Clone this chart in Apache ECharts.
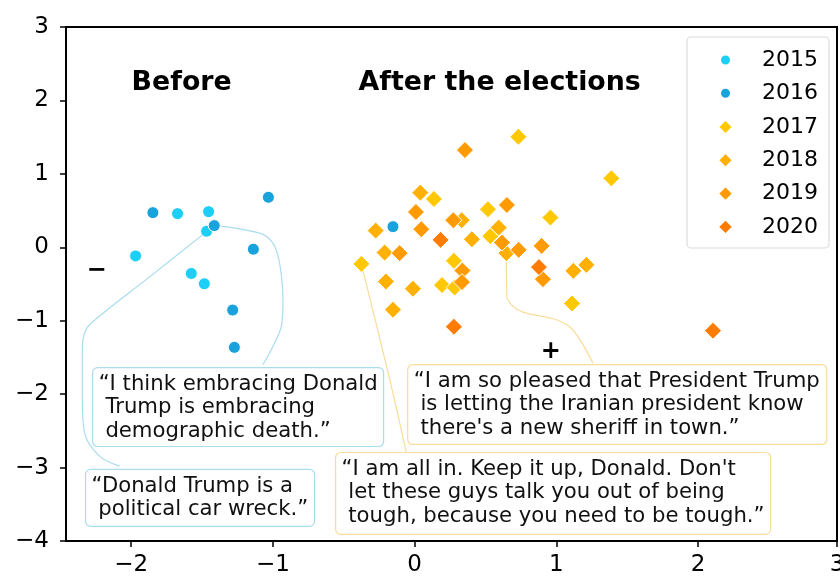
<!DOCTYPE html>
<html><head><meta charset="utf-8">
<script src="https://cdn.jsdelivr.net/npm/echarts@6/dist/echarts.min.js"></script>
<style>html,body{margin:0;padding:0;background:#fff}#c{width:840px;height:577px}</style>
</head><body><div id="c"></div>
<script>
// ---- data ----
const years = ['2015', '2016', '2017', '2018', '2019', '2020'];
const d2015 = [[-1.673,0.458],[-1.454,0.485],[-1.468,0.219],[-1.969,-0.117],[-1.576,-0.357],[-1.484,-0.497]];
const d2016 = [[-1.847,0.472],[-1.414,0.295],[-1.032,0.681],[-1.138,-0.026],[-1.284,-0.855],[-1.272,-1.363],[-0.153,0.281]];
const d2017 = [[0.732,1.505],[1.388,0.939],[0.136,0.658],[0.517,0.518],[0.958,0.404],[0.534,0.151],[-0.376,-0.226],[0.277,-0.185],[0.193,-0.515],[0.282,-0.548],[1.110,-0.765]];
const d2018 = [[0.040,0.744],[0.332,0.368],[-0.275,0.227],[0.593,0.268],[0.404,0.110],[0.647,-0.080],[-0.212,-0.072],[1.120,-0.321],[1.212,-0.239],[-0.203,-0.466],[-0.012,-0.565],[-0.153,-0.851]];
const d2019 = [[0.355,1.324],[0.651,0.576],[0.009,0.481],[0.273,0.368],[0.047,0.246],[0.616,0.064],[0.734,-0.035],[0.896,0.019],[-0.106,-0.080],[0.337,-0.317],[0.905,-0.434],[0.334,-0.474]];
const d2020 = [[0.183,0.101],[0.877,-0.270],[0.277,-1.082],[2.105,-1.136]];
const xTicks = [-2, -1, 0, 1, 2, 3];
const yTicks = [-4, -3, -2, -1, 0, 1, 2, 3];

// annotation content (data coordinates)
const headings = [{t: 'Before', x: -1.644, y: 2.236}, {t: 'After the elections', x: 0.600, y: 2.236}];
const signs = [{t: '−', x: -2.244, y: -0.321}, {t: '+', x: 0.960, y: -1.422}];
const quotes = [
  {text: '“I think embracing Donald\n Trump is embracing\n demographic death.”', x1: -2.272, y1: -1.639, x2: -0.219, y2: -2.713, side: 'blue'},
  {text: '“Donald Trump is a\n political car wreck.”', x1: -2.322, y1: -3.025, x2: -0.706, y2: -3.800, side: 'blue'},
  {text: '“I am so pleased that President Trump\n is letting the Iranian president know\n there\'s a new sheriff in town.”', x1: -0.049, y1: -1.598, x2: 2.908, y2: -2.685, side: 'orange'},
  {text: '“I am all in. Keep it up, Donald. Don\'t\n let these guys talk you out of being\n tough, because you need to be tough.”', x1: -0.558, y1: -2.795, x2: 2.512, y2: -3.909, side: 'orange'}
];
const connectors = [
  {side: 'blue', pts: [[-1.4136,0.295],[-1.094,0.192],[-1.000,0.056],[-0.953,-0.216],[-0.929,-0.715],[-0.941,-1.078],[-1.000,-1.350],[-1.071,-1.599]]},
  {side: 'blue', pts: [[-1.468,0.213],[-1.875,-0.410],[-2.282,-1.032],[-2.329,-1.168],[-2.345,-1.350],[-2.345,-2.074],[-2.329,-2.527],[-2.223,-2.845],[-2.082,-2.981]]},
  {side: 'orange', pts: [[-0.376,-0.226],[-0.176,-1.800],[-0.0586,-2.799]]},
  {side: 'orange', pts: [[0.647,-0.080],[0.651,-0.670],[0.706,-0.824],[0.788,-0.896],[1.0,-0.987],[1.115,-1.123],[1.258,-1.575]]}
];

// ---- styles ----
const FONT = 'DejaVu Sans';
const colors = ['#1ccff6', '#1aa2dc', '#ffc800', '#ffb000', '#ff9a00', '#ff7c00'];
const sideColor = {blue: '#a9dced', orange: '#f9dc9c'};
const seriesData = [d2015, d2016, d2017, d2018, d2019, d2020];

const fmt = v => {
  const r = Math.round(v);
  if (Math.abs(v - r) > 0.03) return '';
  return String(r).replace('-', '−');
};

const series = [];
connectors.forEach(c => series.push({
  type: 'line', data: c.pts, smooth: 0.35, symbol: 'none', silent: true, z: 1,
  lineStyle: {color: sideColor[c.side], width: 1.2}
}));
years.forEach((y, i) => series.push({
  name: y, type: 'scatter', data: seriesData[i], z: 3,
  symbol: i < 2 ? 'circle' : 'diamond', symbolSize: i < 2 ? 12 : 17,
  itemStyle: {color: colors[i], borderColor: '#fff', borderWidth: 1, opacity: 1}
}));

const option = {
  animation: false,
  backgroundColor: '#fff',
  grid: {left: 66, top: 27, width: 771, height: 514, show: true, borderColor: '#000', borderWidth: 2,
         containLabel: false, outerBoundsMode: 'none'},
  xAxis: {
    type: 'value', min: -2.46, max: 2.98, splitNumber: 5,
    axisLine: {onZero: false, lineStyle: {color: '#000', width: 2}},
    axisTick: {show: true, length: 6, lineStyle: {color: '#000', width: 1.5}},
    axisLabel: {showMinLabel: false, showMaxLabel: true, formatter: fmt, color: '#000', fontFamily: FONT, fontSize: 23, margin: 13},
    splitLine: {show: false}
  },
  yAxis: {
    type: 'value', min: yTicks[0], max: yTicks[yTicks.length - 1], interval: 1,
    axisLine: {onZero: false, lineStyle: {color: '#000', width: 2}},
    axisTick: {show: true, length: 6, lineStyle: {color: '#000', width: 1.5}},
    axisLabel: {formatter: fmt, color: '#000', fontFamily: FONT, fontSize: 23, margin: 17},
    splitLine: {show: false}
  },
  legend: [
    {data: years.slice(0, 2), orient: 'vertical', left: 714, top: 44, itemWidth: 11, itemHeight: 11, itemGap: 11.3, selectedMode: false, z: 6,
     textStyle: {fontFamily: FONT, fontSize: 22, color: '#000', lineHeight: 22, padding: [0, 0, 0, 26]}},
    {data: years.slice(2), orient: 'vertical', left: 712, top: 111, itemWidth: 15, itemHeight: 15, itemGap: 11.3, selectedMode: false, z: 6,
     textStyle: {fontFamily: FONT, fontSize: 22, color: '#000', lineHeight: 22, padding: [0, 0, 0, 24]}}
  ],
  series: series
};

const chart = echarts.init(document.getElementById('c'));
chart.setOption(option);
const P = (x, y) => chart.convertToPixel({gridIndex: 0}, [x, y]);

const graphic = [];
graphic.push({type: 'rect', shape: {x: 687, y: 37, width: 142, height: 211, r: 4}, z: 4,
  style: {fill: '#fff', stroke: '#dcdcdc', lineWidth: 1.2}});
headings.forEach(h => {
  const p = P(h.x, h.y);
  graphic.push({type: 'text', x: p[0], y: p[1], z: 10,
    style: {text: h.t, fontFamily: FONT, fontSize: 26.8, fontWeight: 'bold', fill: '#000', align: 'center', verticalAlign: 'middle'}});
});
signs.forEach(s => {
  const p = P(s.x, s.y);
  graphic.push({type: 'text', x: p[0], y: p[1], z: 10,
    style: {text: s.t, fontFamily: FONT, fontSize: 24, fontWeight: 'bold', fill: '#000', align: 'center', verticalAlign: 'middle'}});
});
quotes.forEach(q => {
  const a = P(q.x1, q.y1), b = P(q.x2, q.y2);
  graphic.push({type: 'rect', z: 10, shape: {x: a[0], y: a[1], width: b[0] - a[0], height: b[1] - a[1], r: 5},
    style: {fill: '#fff', stroke: sideColor[q.side], lineWidth: 1.2}});
  graphic.push({type: 'text', z: 11, x: a[0] + 6, y: a[1] + 5,
    style: {text: q.text, fontFamily: FONT, fontSize: 21.2, lineHeight: 23.5, fill: '#111', align: 'left', verticalAlign: 'top'}});
});
chart.setOption({graphic: graphic});
</script></body></html>
